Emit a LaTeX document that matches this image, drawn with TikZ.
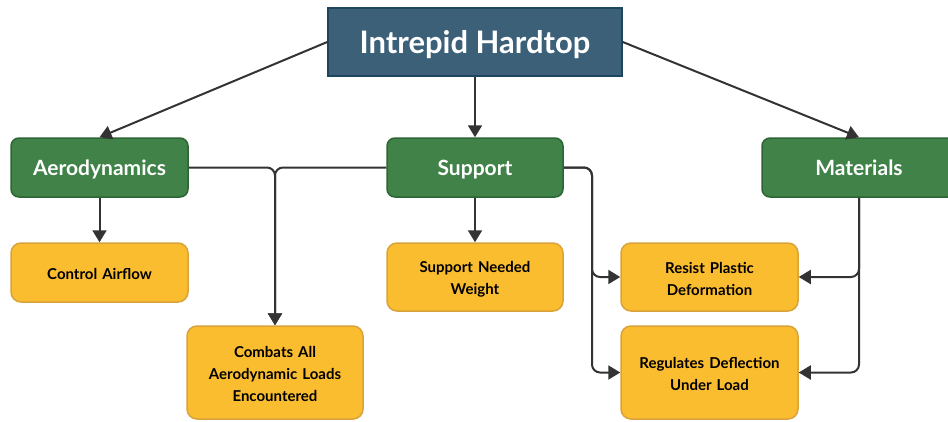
\documentclass[tikz,border=0pt]{standalone}
\usepackage{fontspec}
\setmainfont{Lato}
\usetikzlibrary{arrows.meta}
\definecolor{rootfill}{HTML}{3B6078}
\definecolor{rootline}{HTML}{1C4560}
\definecolor{grnfill}{HTML}{418249}
\definecolor{grnline}{HTML}{2D6534}
\definecolor{ylwfill}{HTML}{FBBD30}
\definecolor{ylwline}{HTML}{D9A23A}
\definecolor{edgecol}{HTML}{333333}
\tikzset{
  rootbox/.style={draw=rootline, fill=rootfill, line width=1.5pt, text=white, font=\fontsize{31}{35}\selectfont\bfseries, inner sep=0pt, text height=22pt, text depth=0pt},
  grnbox/.style={draw=grnline, fill=grnfill, line width=1.5pt, rounded corners=8pt, text=white, font=\fontsize{21}{24}\selectfont\bfseries, inner sep=0pt, minimum height=59pt, text height=15pt, text depth=0pt},
  ylwbox/.style={draw=ylwline, fill=ylwfill, line width=1.5pt, rounded corners=10pt, text=black, font=\fontsize{15}{22}\selectfont\bfseries, inner sep=0pt, align=center, text width=170pt, text height=15pt},
  conn/.style={draw=edgecol, line width=2pt, rounded corners=8pt, -{Triangle[length=12pt,width=14pt]}}
}
\begin{document}
\begin{tikzpicture}[x=1pt,y=-1pt]
\useasboundingbox (0,0) rectangle (948,421);
\node[rootbox, minimum width=294pt, minimum height=68pt] (root) at (475,42) {Intrepid Hardtop};
\node[grnbox, minimum width=177pt] (aero) at (99.5,167.5) {Aerodynamics};
\node[grnbox, minimum width=176pt] (sup) at (475,167.5) {Support};
\node[grnbox, minimum width=194pt] (mat) at (859,167.5) {Materials};
\node[ylwbox, minimum width=177pt, minimum height=59pt] (ctrl) at (99.5,272.5) {Control Airflow};
\node[ylwbox, minimum width=176pt, minimum height=93pt] (comb) at (275,372.5) {Combats All\\Aerodynamic Loads\\Encountered};
\node[ylwbox, minimum width=176pt, minimum height=68pt] (snw) at (475,277) {Support Needed\\Weight};
\node[ylwbox, minimum width=177pt, minimum height=68pt] (res) at (709.5,277) {Resist Plastic\\Deformation};
\node[ylwbox, minimum width=177pt, minimum height=93pt] (reg) at (709.5,372.5) {Regulates Deflection\\Under Load};
\coordinate (sj) at (592,167.5);
\draw[conn] (root.west) -- (aero.north);
\draw[conn] (root.east) -- (mat.north);
\draw[conn] (root.south) -- (sup.north);
\draw[conn] (aero.south) -- (ctrl.north);
\draw[conn] (sup.south) -- (snw.north);
\draw[conn] (aero.east) -| (comb.north);
\draw[conn] (sup.west) -| (comb.north);
\draw[conn] (sup.east) -- (sj) |- (res.west);
\draw[conn] (sup.east) -- (sj) |- (reg.west);
\draw[conn] (mat.south) |- (res.east);
\draw[conn] (mat.south) |- (reg.east);
\end{tikzpicture}
\end{document}
